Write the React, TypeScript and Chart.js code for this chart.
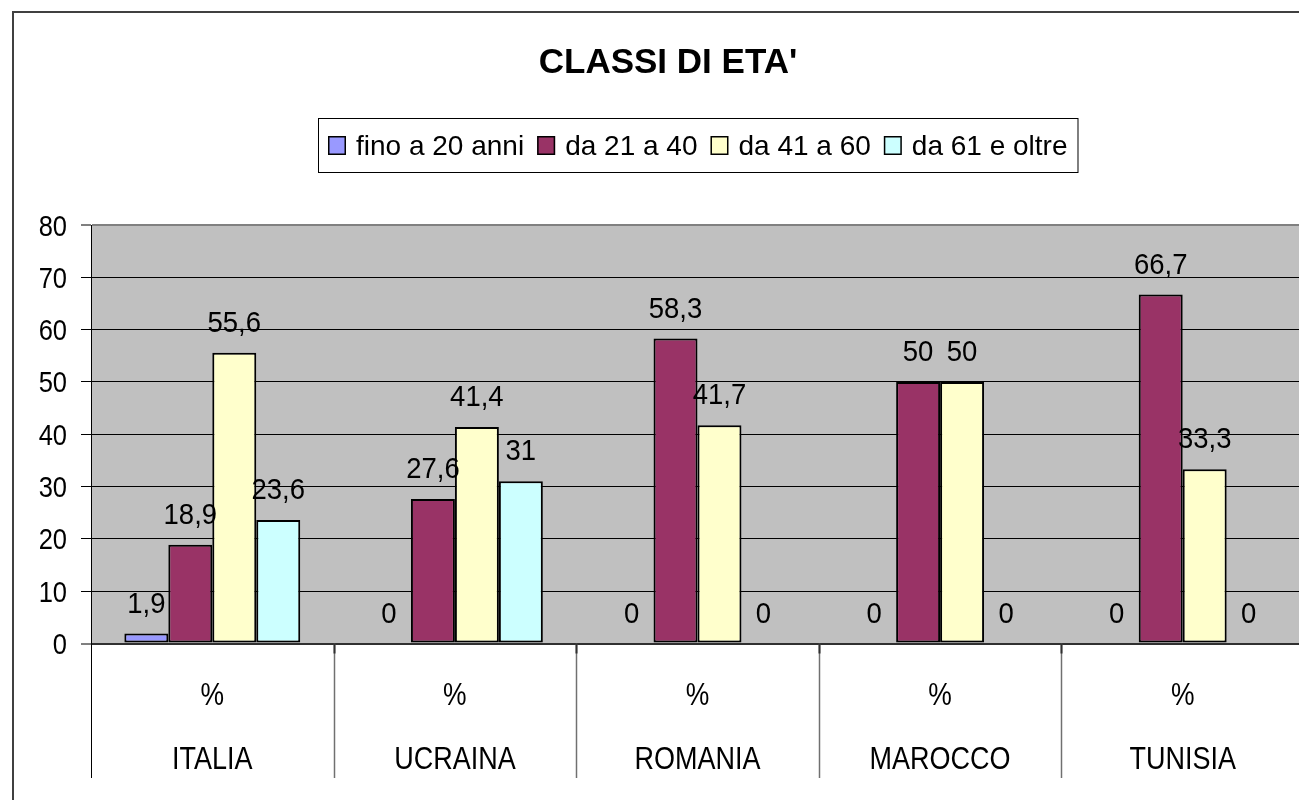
import React, { useEffect, useRef } from "react";
import { Chart, registerables } from "chart.js";

Chart.register(...registerables);

// ---------- data ----------
const TITLE = "CLASSI DI ETA'";
const CATEGORIES = ["ITALIA", "UCRAINA", "ROMANIA", "MAROCCO", "TUNISIA"];
const SUB_LABEL = "%";
const SERIES_NAMES = ["fino a 20 anni", "da 21 a 40", "da 41 a 60", "da 61 e oltre"];
const FINO_20 = [1.9, 0, 0, 0, 0];
const DA_21_40 = [18.9, 27.6, 58.3, 50, 66.7];
const DA_41_60 = [55.6, 41.4, 41.7, 50, 33.3];
const DA_61_OLTRE = [23.6, 31, 0, 0, 0];
const SERIES_VALUES = [FINO_20, DA_21_40, DA_41_60, DA_61_OLTRE];
const SERIES_COLORS = ["#9999FF", "#993366", "#FFFFCC", "#CCFFFF"];
const Y_MIN = 0;
const Y_MAX = 80;
const Y_STEP = 10;

// ---------- style ----------
const FONT = '"Liberation Sans", Arial, Helvetica, sans-serif';
const CANVAS_W = 1340;
const CANVAS_H = 800;

function fmt(v: number): string {
  return String(v).replace(".", ",");
}

function drawText(
  ctx: CanvasRenderingContext2D,
  text: string,
  x: number,
  y: number,
  size: number,
  sy: number,
  align: CanvasTextAlign,
  bold = false
) {
  ctx.save();
  ctx.translate(x, y);
  ctx.scale(1, sy);
  ctx.font = `${bold ? "bold " : ""}${size}px ${FONT}`;
  ctx.textAlign = align;
  ctx.textBaseline = "alphabetic";
  ctx.fillStyle = "#000000";
  ctx.fillText(text, 0, 0);
  ctx.restore();
}

const excelPlugin = {
  id: "excelLook",
  beforeDraw(chart: any) {
    const { ctx, chartArea } = chart;
    ctx.save();
    ctx.fillStyle = "#FFFFFF";
    ctx.fillRect(0, 0, chart.width, chart.height);
    ctx.fillStyle = "#C0C0C0";
    ctx.fillRect(chartArea.left, chartArea.top, chartArea.right - chartArea.left, chartArea.bottom - chartArea.top);
    ctx.restore();
  },
  afterDatasetsDraw(chart: any) {
    const { ctx } = chart;
    chart.data.datasets.forEach((ds: any, di: number) => {
      const meta = chart.getDatasetMeta(di);
      meta.data.forEach((el: any, i: number) => {
        drawText(ctx, fmt(ds.data[i]), el.x, el.y - 21, 27.5, 1.07, "center");
      });
    });
  },
  afterDraw(chart: any) {
    const { ctx, chartArea } = chart;
    const ys = chart.scales.y;
    const xs = chart.scales.x;

    // y tick labels
    ys.ticks.forEach((t: any) => {
      const py = ys.getPixelForValue(t.value);
      drawText(ctx, String(t.value), 67, py + 10.5, 25.5, 1.18, "right");
    });

    // category dividers
    const n = chart.data.labels.length;
    const catW = (chartArea.right - chartArea.left) / n;
    ctx.save();
    for (let i = 0; i <= n; i++) {
      const x = Math.round(chartArea.left + i * catW) + 0.5;
      ctx.beginPath();
      ctx.strokeStyle = i === 0 ? "#000000" : "#707070";
      ctx.lineWidth = i === 0 ? 1 : 1.5;
      ctx.moveTo(x, chartArea.bottom);
      ctx.lineTo(x, 778);
      ctx.stroke();
      if (i > 0) {
        ctx.beginPath();
        ctx.strokeStyle = "#303030";
        ctx.lineWidth = 2;
        ctx.moveTo(x, chartArea.bottom);
        ctx.lineTo(x, chartArea.bottom + 10);
        ctx.stroke();
      }
    }
    ctx.restore();

    // category labels (two levels)
    chart.data.labels.forEach((lab: any, i: number) => {
      const cx = xs.getPixelForValue(i);
      drawText(ctx, lab[0], cx, 705, 26.5, 1.17, "center");
      drawText(ctx, lab[1], cx, 769.3, 27, 1.17, "center");
    });

    // title
    drawText(ctx, TITLE, 668, 73.3, 35, 1, "center", true);

    // legend
    ctx.save();
    ctx.font = `28px ${FONT}`;
    let x = 328;
    const items: { x: number; w: number }[] = [];
    chart.data.datasets.forEach((ds: any) => {
      const w = ctx.measureText(ds.label).width;
      items.push({ x, w });
      x += 28 + w + 13;
    });
    const boxRight = x - 13 + 10;
    ctx.fillStyle = "#FFFFFF";
    ctx.fillRect(318, 118, boxRight - 318, 54);
    ctx.strokeStyle = "#000000";
    ctx.lineWidth = 1;
    ctx.strokeRect(318.5, 118.5, boxRight - 318, 54);
    chart.data.datasets.forEach((ds: any, i: number) => {
      const it = items[i];
      ctx.fillStyle = ds.backgroundColor;
      ctx.fillRect(it.x, 136, 18, 19);
      ctx.strokeStyle = "#000000";
      ctx.lineWidth = 1.5;
      ctx.strokeRect(it.x + 0.75, 136.75, 16.5, 17.5);
      drawText(ctx, ds.label, it.x + 28, 155, 28, 1, "left");
    });
    ctx.restore();

    // outer chart border
    ctx.save();
    ctx.strokeStyle = "#404040";
    ctx.lineWidth = 2;
    ctx.beginPath();
    ctx.moveTo(13, chart.height + 5);
    ctx.lineTo(13, 12);
    ctx.lineTo(chart.width + 5, 12);
    ctx.stroke();
    ctx.restore();
  },
};

export default function App() {
  const canvasRef = useRef<HTMLCanvasElement | null>(null);

  useEffect(() => {
    if (!canvasRef.current) return;
    const chart = new Chart(canvasRef.current, {
      type: "bar",
      data: {
        labels: CATEGORIES.map((c) => [SUB_LABEL, c]),
        datasets: SERIES_NAMES.map((name, i) => ({
          label: name,
          data: SERIES_VALUES[i],
          backgroundColor: SERIES_COLORS[i],
          borderColor: "#000000",
          borderWidth: (c: any) => (c.raw === 0 ? 0 : 2),
          borderSkipped: false,
          categoryPercentage: 0.725,
          barPercentage: 1,
        })),
      },
      options: {
        animation: false,
        responsive: false,
        devicePixelRatio: 1,
        layout: { padding: { left: 0, top: 225, right: 36, bottom: 0 } },
        plugins: {
          legend: { display: false },
          title: { display: false },
          tooltip: { enabled: false },
        },
        scales: {
          x: {
            type: "category",
            offset: true,
            grid: { display: false },
            border: { display: false },
            ticks: { display: false },
            afterFit: (s: any) => {
              s.height = CANVAS_H - 643.5;
            },
          },
          y: {
            min: Y_MIN,
            max: Y_MAX,
            ticks: { display: false, stepSize: Y_STEP },
            border: { display: true, color: "#000000", width: 1 },
            grid: {
              color: (c: any) =>
                c.tick && c.tick.value === Y_MAX ? "#808080" : c.tick && c.tick.value === 0 ? "#303030" : "#000000",
              lineWidth: (c: any) => (c.tick && (c.tick.value === 0 || c.tick.value === Y_MAX) ? 2 : 1),
              tickColor: "#000000",
              tickWidth: 1,
              tickLength: 10,
              drawTicks: true,
            },
            afterFit: (s: any) => {
              s.width = 91;
            },
          },
        },
      },
      plugins: [excelPlugin],
    } as any);
    return () => chart.destroy();
  }, []);

  return (
    <div
      style={{
        position: "fixed",
        left: 0,
        top: 0,
        width: 1299,
        height: 800,
        overflow: "hidden",
        background: "#FFFFFF",
      }}
    >
      <canvas
        ref={canvasRef}
        width={CANVAS_W}
        height={CANVAS_H}
        style={{ position: "absolute", left: 0, top: 0, width: CANVAS_W, height: CANVAS_H }}
      />
    </div>
  );
}
